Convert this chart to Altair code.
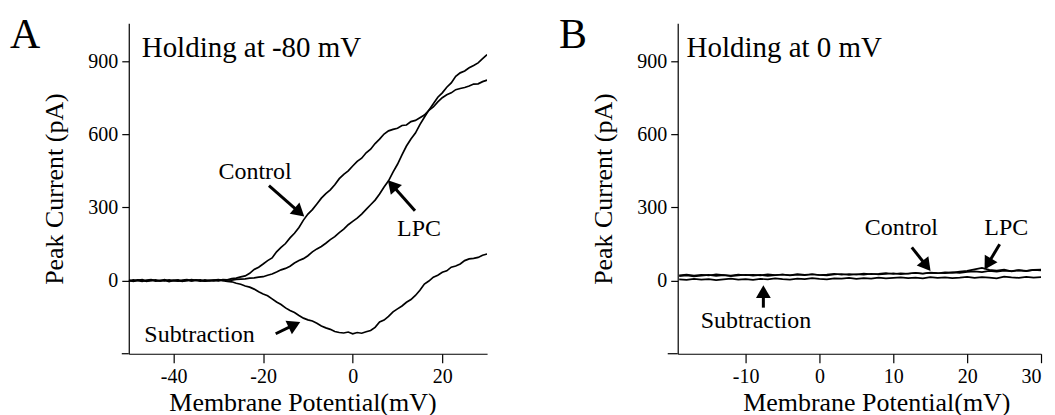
import math
import altair as alt
import pandas as pd

FONT = "Liberation Serif"

# ---------------- Panel A data (Holding at -80 mV) ----------------
a_mv = list(range(-50, 31))
a_control = [2, -3, 1, 4, -2, 0, 3, -1, 2, -4, 1, 3, -2, 0, 4, 1, -2, 3, 0, 2, 4, 1,
             3, 8, 10, 15, 19, 30, 46, 55, 68, 82, 93, 118, 136, 152, 175, 194, 218, 248,
             273, 291, 314, 338, 357, 372, 393, 418, 436, 450, 470, 489, 502, 524, 539,
             562, 580, 601, 614, 620, 625, 636, 638, 652, 657, 668, 679, 698, 712, 733,
             750, 762, 770, 783, 788, 792, 798, 806, 807, 816, 822]
a_lpc = [-1, 3, 0, -3, 2, 4, -2, 1, -1, 3, 0, -2, 2, 4, -1, 1, 3, -2, 0, 2, -1, 4,
         3, 2, 5, 6, 7, 10, 11, 14, 16, 22, 27, 35, 44, 50, 59, 72, 82, 90,
         102, 118, 130, 140, 153, 168, 180, 197, 211, 229, 243, 256, 273, 292, 311,
         330, 355, 384, 409, 445, 477, 516, 552, 581, 605, 640, 670, 699, 725, 752,
         770, 793, 811, 838, 852, 860, 873, 882, 893, 910, 927]
a_sub = [0, -2, 3, 1, -3, 2, 0, -1, 4, -2, 1, 0, -3, 2, -1, 3, 0, -2, 1, -1, 2, 0,
         -3, -5, -11, -15, -22, -27, -35, -46, -55, -62, -75, -88, -98, -112, -123, -131, -143, -154,
         -161, -166, -175, -186, -194, -200, -209, -213, -215, -211, -218, -213, -216, -210, -205,
         -192, -170, -162, -147, -128, -116, -104, -89, -78, -61, -40, -14, -2, 14, 22,
         34, 40, 55, 60, 68, 82, 89, 91, 95, 104, 109]

# ---------------- Panel B data (Holding at 0 mV) ----------------
b_mv = list(range(-19, 31))
b_control = [22, 25, 20, 24, 21, 26, 23, 20, 25, 22, 24, 21, 26, 23, 25, 22, 27, 24, 26, 23,
             25, 28, 24, 27, 25, 29, 26, 28, 31, 27, 30, 28, 32, 29, 33, 31, 30, 34, 32, 36,
             38, 35, 40, 37, 41, 39, 43, 40, 44, 45]
b_lpc = [18, 21, 17, 20, 23, 19, 22, 18, 21, 24, 20, 23, 19, 22, 25, 21, 24, 22, 26, 23,
         21, 25, 27, 23, 26, 24, 28, 25, 27, 30, 26, 29, 31, 28, 32, 30, 34, 33, 37, 40,
         46, 52, 44, 41, 45, 38, 42, 39, 44, 42]
b_sub = [5, 3, 7, 4, 6, 2, 5, 8, 4, 6, 3, 7, 5, 9, 6, 4, 8, 6, 10, 7,
         5, 9, 8, 11, 7, 10, 8, 12, 9, 11, 13, 10, 12, 9, 14, 11, 13, 10, 12, 15,
         11, 14, 12, 9, 16, 13, 11, 15, 12, 14]

# annotation labels: (text, x, y)
a_labels = [("Control", -21.8, 416), ("LPC", 14.8, 184), ("Subtraction", -34.2, -252)]
a_arrows = [(-18.7, 389, -11.9, 280), (13.9, 286, 8.8, 392), (-17.2, -218, -13.0, -181)]
b_labels = [("Control", 11.1, 185), ("LPC", 25.3, 185), ("Subtraction", -8.6, -193)]
b_arrows = [(12.5, 136, 14.5, 60), (24.4, 149, 22.8, 68), (-7.6, -111, -7.6, -45)]

Y_DOM = [-300, 1055]
H = 331


def long_df(mv, series):
    rows = []
    for name, vals in series.items():
        assert len(vals) == len(mv), name
        for x, v in zip(mv, vals):
            rows.append({"mv": x, "pa": v, "series": name})
    return pd.DataFrame(rows)


def panel(mv, series, xdom, xticks, width, ext, labels, arrows, letter, holding, holding_x, title_x):
    df = long_df(mv, series)
    xs = alt.Scale(domain=xdom, nice=False, zero=False)
    ys = alt.Scale(domain=Y_DOM, nice=False, zero=False)
    xax = alt.Axis(values=xticks, labelExpr="datum.value + ''", tickSize=9, labelPadding=4,
                   title="Membrane Potential(mV)", titlePadding=3, titleX=title_x,
                   labelFont=FONT, titleFont=FONT)
    yax = alt.Axis(values=[0, 300, 600, 900], labelExpr="datum.value + ''", tickSize=7,
                   labelPadding=4, title="Peak Current (pA)", titlePadding=20,
                   labelFont=FONT, titleFont=FONT)

    lines = alt.Chart(df).mark_line(color="black", strokeWidth=1.7, clip=True).encode(
        x=alt.X("mv:Q", scale=xs, axis=xax),
        y=alt.Y("pa:Q", scale=ys, axis=yax),
        detail="series:N",
    )

    ext_rule = alt.Chart(pd.DataFrame({"k": [0]})).mark_rule(color="black", strokeWidth=1.2).encode(
        x=alt.value(-ext), x2=alt.value(0), y=alt.value(H)
    )

    ldf = pd.DataFrame(labels, columns=["label", "x", "y"])
    texts = alt.Chart(ldf).mark_text(font=FONT, fontSize=24, color="black", align="center",
                                     baseline="alphabetic").encode(
        x=alt.X("x:Q", scale=xs), y=alt.Y("y:Q", scale=ys), text="label:N")

    pxx = width / (xdom[1] - xdom[0])
    pxy = H / (Y_DOM[1] - Y_DOM[0])
    arr = []
    for (x1, y1, x2, y2) in arrows:
        dx = (x2 - x1) * pxx
        dy = -(y2 - y1) * pxy
        ang = math.degrees(math.atan2(dx, -dy)) % 360
        arr.append({"x1": x1, "y1": y1, "x2": x2, "y2": y2, "ang": ang})
    adf = pd.DataFrame(arr)
    shafts = alt.Chart(adf).mark_rule(color="black", strokeWidth=3).encode(
        x=alt.X("x1:Q", scale=xs), y=alt.Y("y1:Q", scale=ys), x2="x2:Q", y2="y2:Q")
    heads = alt.Chart(adf).mark_point(shape="triangle-up", filled=True, color="black",
                                      opacity=1, size=220).encode(
        x=alt.X("x2:Q", scale=xs), y=alt.Y("y2:Q", scale=ys),
        angle=alt.Angle("ang:Q", scale=None))

    hdf = pd.DataFrame({"label": [holding], "x": [holding_x], "y": [918]})
    htext = alt.Chart(hdf).mark_text(font=FONT, fontSize=29, color="black", align="left",
                                     baseline="alphabetic").encode(
        x=alt.X("x:Q", scale=xs), y=alt.Y("y:Q", scale=ys), text="label:N")

    letdf = pd.DataFrame({"label": [letter]})
    ltext = alt.Chart(letdf).mark_text(font=FONT, fontSize=42, color="black", align="left",
                                       baseline="alphabetic").encode(
        x=alt.value(-119), y=alt.value(25), text="label:N")

    return alt.layer(lines, ext_rule, texts, shafts, heads, htext, ltext).properties(
        width=width, height=H)


pA = panel(a_mv, {"Control": a_control, "LPC": a_lpc, "Subtraction": a_sub},
           [-50, 30], [-40, -20, 0, 20], 359, 7, a_labels, a_arrows, "A",
           "Holding at -80 mV", -47.1, 174)
pB = panel(b_mv, {"Control": b_control, "LPC": b_lpc, "Subtraction": b_sub},
           [-19.2, 30], [-10, 0, 10, 20, 30], 364, 10, b_labels, b_arrows, "B",
           "Holding at 0 mV", -18.0, 199)

chart = alt.hconcat(pA, pB, spacing=72).configure(font=FONT).configure_view(stroke=None).configure_axis(
    domainColor="black", domainWidth=1.2, tickColor="black", tickWidth=1.2, grid=False,
    labelFont=FONT, labelFontSize=20, labelColor="black",
    titleFont=FONT, titleFontSize=26, titleFontWeight="normal", titleColor="black",
).properties(padding={"left": 2, "top": 6, "right": 5, "bottom": 0})

chart.save("out.html", embed_options={"renderer": "svg", "actions": False})
